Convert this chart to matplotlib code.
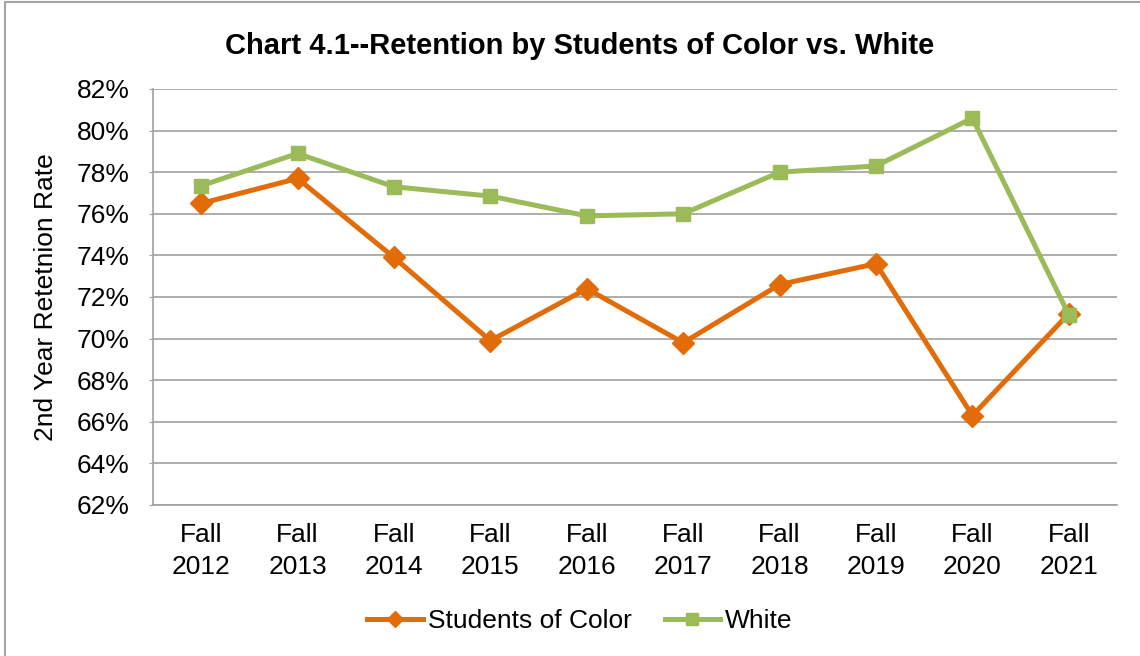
import matplotlib
matplotlib.use("Agg")
import matplotlib.pyplot as plt
from matplotlib.patches import Rectangle
from matplotlib.ticker import FuncFormatter

categories = ["Fall\n2012", "Fall\n2013", "Fall\n2014", "Fall\n2015", "Fall\n2016",
              "Fall\n2017", "Fall\n2018", "Fall\n2019", "Fall\n2020", "Fall\n2021"]
students_of_color = [76.5, 77.7, 73.9, 69.9, 72.4, 69.8, 72.6, 73.6, 66.3, 71.2]
white = [77.35, 78.9, 77.3, 76.85, 75.9, 76.0, 78.0, 78.3, 80.6, 71.15]
y_ticks = list(range(62, 83, 2))

plt.rcParams['font.family'] = ['Liberation Sans', 'DejaVu Sans']

fig = plt.figure(figsize=(11.4, 6.56), dpi=100)
ax = fig.add_axes([153/1140, 1-505/656, (1117-153)/1140, (505-89)/656])

x = list(range(len(categories)))
ax.plot(x, students_of_color, color='#E36C0A', lw=3.6, marker='D', markersize=11,
        label='Students of Color', solid_joinstyle='round', zorder=3)
ax.plot(x, white, color='#9BBB59', lw=3.6, marker='s', markersize=10,
        label='White', solid_joinstyle='round', zorder=3)

ax.set_xlim(-0.5, len(categories)-0.5)
ax.set_ylim(62, 82)
ax.set_yticks(y_ticks)
ax.yaxis.set_major_formatter(FuncFormatter(lambda v, p: f"{int(v)}%"))
ax.set_xticks(x)
ax.set_xticklabels(categories, linespacing=1.4)
ax.grid(axis='y', color='#A0A0A0', lw=1.2)
ax.set_axisbelow(True)
for s in ['top', 'right']:
    ax.spines[s].set_visible(False)
ax.spines['left'].set_color('#A0A0A0')
ax.spines['bottom'].set_color('#A0A0A0')
ax.spines['left'].set_linewidth(1.2)
ax.spines['bottom'].set_linewidth(1.2)
ax.tick_params(axis='y', length=3, color='#A0A0A0', labelsize=19, pad=14)
ax.tick_params(axis='x', length=0, labelsize=19, pad=13)
ax.set_ylabel('2nd Year Retetnion Rate', fontsize=19, labelpad=13)

fig.text(580/1140, 1-46/656, 'Chart 4.1--Retention by Students of Color vs. White',
         ha='center', va='center', fontsize=21, fontweight='bold')

leg = fig.legend(loc='center', bbox_to_anchor=(580/1140, 1-621/656), ncol=2, frameon=False,
                 fontsize=19, handlelength=2.1, columnspacing=1.25, handletextpad=0.2)
for h in leg.legend_handles:
    h.set_markersize(8)

fig.patches.append(Rectangle((5/1140, -0.1), 1.2, 1.1 - 2/656, transform=fig.transFigure,
                             fill=False, edgecolor='#A6A6A6', lw=1.5))

fig.savefig('out.png', dpi=100)
